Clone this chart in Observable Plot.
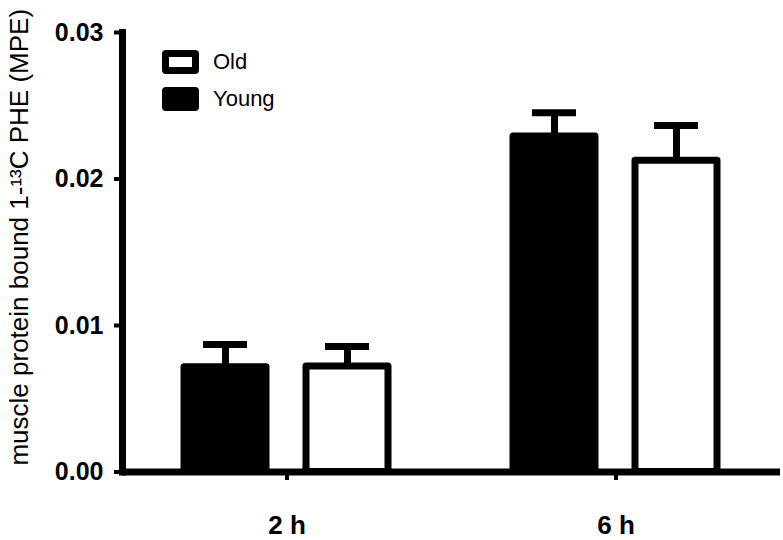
<!DOCTYPE html>
<html><head><meta charset="utf-8">
<script src="https://cdn.jsdelivr.net/npm/d3@7"></script>
<script src="https://cdn.jsdelivr.net/npm/@observablehq/plot@0.6"></script>
<style>
body{margin:0;background:#fff;}
#wrap{position:relative;width:783px;height:540px;font-family:"Liberation Sans",Arial,Helvetica,sans-serif;}
#legend{position:absolute;left:162px;top:50px;}
.item{display:flex;align-items:center;height:24px;margin-bottom:13px;}
.sw{box-sizing:border-box;width:37px;height:24px;border:7px solid #000;border-radius:4px;margin-right:14px;}
.lab{font-size:22px;line-height:24px;color:#000;}
</style></head><body><div id="wrap"></div>
<script>
const times = ["2 h", "6 h"];
const groups = ["Young", "Old"];
const youngMean = [0.00715, 0.0229];
const youngSem = [0.00155, 0.00162];
const oldMean = [0.0072, 0.02125];
const oldSem = [0.00137, 0.0024];
const legendOrder = ["Old", "Young"];
const yTicks = [0, 0.01, 0.02, 0.03];
const yLabel = "muscle protein bound 1-¹³C PHE (MPE)";

const fillOf = {Young: "#000", Old: "#fff"};
const rows = times.flatMap((t, i) => [
  {time: t, group: "Young", mean: youngMean[i], sem: youngSem[i]},
  {time: t, group: "Old", mean: oldMean[i], sem: oldSem[i]}
]);

const chart = Plot.plot({
  width: 783, height: 540,
  marginLeft: 122, marginRight: 3, marginTop: 32, marginBottom: 68.5,
  style: {fontFamily: '"Liberation Sans", Arial, Helvetica, sans-serif', background: "white", color: "black"},
  fx: {domain: times, padding: 0, label: null},
  x: {domain: groups, paddingInner: 0.325, paddingOuter: 0.5, axis: null},
  y: {domain: [0, 0.03], axis: null},
  marks: [
    Plot.ruleY([0], {strokeWidth: 7}),
    Plot.frame({anchor: "left", facetAnchor: "left", strokeWidth: 7, strokeLinecap: "square"}),
    Plot.ruleX(rows, {fx: "time", x: "group", y1: "mean", y2: d => d.mean + d.sem, strokeWidth: 7}),
    Plot.tickY(rows, {fx: "time", x: "group", y: d => d.mean + d.sem, strokeWidth: 7, insetLeft: 19, insetRight: 19}),
    Plot.barY(rows, {fx: "time", x: "group", y: "mean", fill: d => fillOf[d.group], stroke: "black", strokeWidth: 7, strokeLinejoin: "round"}),
    Plot.axisY({ticks: yTicks, tickFormat: d3.format(".2f"), tickSize: 8, tickPadding: 11, strokeWidth: 4, fontSize: 25, fontWeight: "bold", label: null}),
    Plot.axisFx({anchor: "bottom", tickSize: 8.5, tickPadding: 35, strokeWidth: 4, fontSize: 26, fontWeight: "bold", label: null}),
    Plot.text([yLabel], {fx: () => times[0], text: d => d, frameAnchor: "left", rotate: -90, dx: -103, dy: -15, fontSize: 26, lineAnchor: "middle", textAnchor: "middle"})
  ]
});

const wrap = document.getElementById("wrap");
wrap.appendChild(chart);
const legend = document.createElement("div");
legend.id = "legend";
for (const g of legendOrder) {
  const item = document.createElement("div");
  item.className = "item";
  const sw = document.createElement("div");
  sw.className = "sw";
  sw.style.background = fillOf[g];
  const lab = document.createElement("span");
  lab.className = "lab";
  lab.textContent = g;
  item.appendChild(sw); item.appendChild(lab);
  legend.appendChild(item);
}
wrap.appendChild(legend);
</script>
</body></html>
